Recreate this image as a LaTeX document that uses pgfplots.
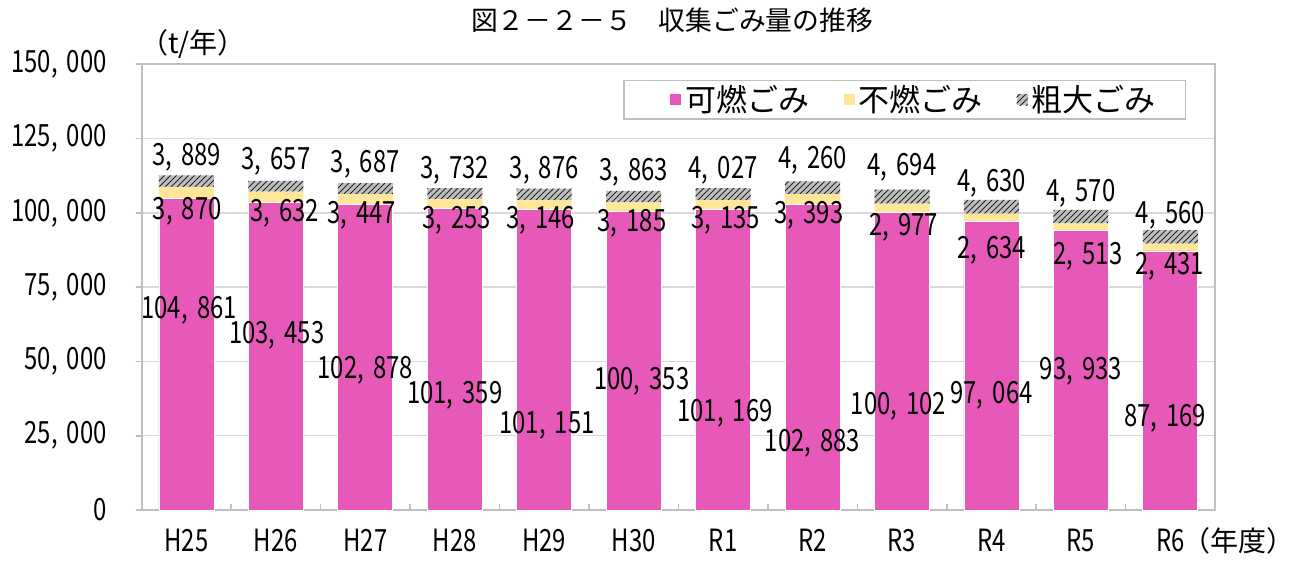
\documentclass[border=0pt]{standalone}
\usepackage{fontspec}
\setmainfont{Noto Sans CJK JP}
\newfontfamily\numfont[FakeStretch=0.78]{Noto Sans CJK JP}
\usepackage{pgfplots}
\pgfplotsset{compat=1.18}
\usetikzlibrary{patterns}
\definecolor{kanen}{HTML}{E659B8}
\definecolor{funen}{HTML}{FFE699}
\definecolor{sodai}{HTML}{BFBFBF}
\definecolor{framec}{HTML}{BFBFBF}
\definecolor{gridc}{HTML}{D9D9D9}
\newcommand{\lab}{\numfont\fontsize{15.3}{17}\selectfont}
\newcommand{\cc}{,\kern0.3em}
\pgfplotsset{sqleg/.style={legend image code/.code={\path (0pt,0pt) (15.5pt,0pt);\path[##1,draw=none] (10pt,-2.75pt) rectangle (15.5pt,2.75pt);}}}
\begin{document}
\begin{tikzpicture}
\begin{axis}[
  at={(0,0)}, anchor=south west,
  scale only axis, width=536.7pt, height=222.9pt,
  ybar stacked, bar width=27.5pt,
  xmin=-0.5, xmax=11.5, ymin=0, ymax=150000,
  xtick={-0.5,0.5,...,11.5},
  x tick label as interval,
  xticklabels={H25,H26,H27,H28,H29,H30,R1,R2,R3,R4,R5,{R6\rlap{\kern-1.2pt\rmfamily\fontsize{14}{16}\selectfont（年度）}}},
  x tick label style={text height=10.5pt, text depth=0pt, yshift=-6.5pt},
  ytick={0,25000,50000,75000,100000,125000,150000},
  yticklabels={0,{25\cc000},{50\cc000},{75\cc000},{100\cc000},{125\cc000},{150\cc000}},
  scaled y ticks=false,
  y tick label style={xshift=-11pt},
  tick label style={font=\lab},
  tick pos=left,
  xtick align=inside, ytick align=outside,
  major tick length=3pt,
  tick style={draw=framec, line width=0.8pt},
  ymajorgrids, xmajorgrids=false,
  grid style={draw=gridc, line width=0.7pt},
  axis line style={draw=framec, line width=1.1pt},
  legend columns=3,
  legend style={at={(0.973,0.965)}, anchor=north east, draw=framec, line width=0.8pt,
    font=\fontsize{15.5}{17}\selectfont, inner xsep=12.9pt, inner ysep=0.5pt,
    nodes={inner ysep=1.8pt},
    /tikz/every even column/.append style={column sep=5pt}},
  legend cell align=left,
]
\addplot+[sqleg, fill=kanen, draw=white, line width=0.4pt] coordinates {
 (0,104861) (1,103453) (2,102878) (3,101359) (4,101151) (5,100353)
 (6,101169) (7,102883) (8,100102) (9,97064) (10,93933) (11,87169)};
\addplot+[sqleg, fill=funen, draw=none] coordinates {
 (0,3870) (1,3632) (2,3447) (3,3253) (4,3146) (5,3185)
 (6,3135) (7,3393) (8,2977) (9,2634) (10,2513) (11,2431)};
\addplot+[sqleg, fill=sodai, draw=none, postaction={pattern=north east lines, pattern color=black!85}] coordinates {
 (0,3889) (1,3657) (2,3687) (3,3732) (4,3876) (5,3863)
 (6,4027) (7,4260) (8,4694) (9,4630) (10,4570) (11,4560)};
\legend{可燃ごみ,不燃ごみ,粗大ごみ}
% top labels
\coordinate (t0) at (axis cs:0,118700);
\coordinate (t1) at (axis cs:1,117200);
\coordinate (t2) at (axis cs:2,116400);
\coordinate (t3) at (axis cs:3,114400);
\coordinate (t4) at (axis cs:4,114400);
\coordinate (t5) at (axis cs:5,113700);
\coordinate (t6) at (axis cs:6,114400);
\coordinate (t7) at (axis cs:7,117500);
\coordinate (t8) at (axis cs:8,115200);
\coordinate (t9) at (axis cs:9,110000);
\coordinate (t10) at (axis cs:10,106600);
\coordinate (t11) at (axis cs:11,99300);
% middle labels
\coordinate (m0) at (axis cs:0.01,100500);
\coordinate (m1) at (axis cs:1.10,99900);
\coordinate (m2) at (axis cs:1.96,99300);
\coordinate (m3) at (axis cs:3.02,97600);
\coordinate (m4) at (axis cs:3.96,97600);
\coordinate (m5) at (axis cs:4.98,96500);
\coordinate (m6) at (axis cs:6.03,97600);
\coordinate (m7) at (axis cs:6.96,99300);
\coordinate (m8) at (axis cs:8.02,95000);
\coordinate (m9) at (axis cs:9.0,87500);
\coordinate (m10) at (axis cs:10.08,85300);
\coordinate (m11) at (axis cs:10.99,81900);
% bottom labels
\coordinate (b0) at (axis cs:0.03,67300);
\coordinate (b1) at (axis cs:1.01,58900);
\coordinate (b2) at (axis cs:2.0,47100);
\coordinate (b3) at (axis cs:3.0,38700);
\coordinate (b4) at (axis cs:4.03,28600);
\coordinate (b5) at (axis cs:5.09,43200);
\coordinate (b6) at (axis cs:6.02,32500);
\coordinate (b7) at (axis cs:7.0,22500);
\coordinate (b8) at (axis cs:7.96,34800);
\coordinate (b9) at (axis cs:9.0,38700);
\coordinate (b10) at (axis cs:10.0,46600);
\coordinate (b11) at (axis cs:10.94,31000);
\end{axis}
\node at (t0) {\lab 3\cc889};
\node at (t1) {\lab 3\cc657};
\node at (t2) {\lab 3\cc687};
\node at (t3) {\lab 3\cc732};
\node at (t4) {\lab 3\cc876};
\node at (t5) {\lab 3\cc863};
\node at (t6) {\lab 4\cc027};
\node at (t7) {\lab 4\cc260};
\node at (t8) {\lab 4\cc694};
\node at (t9) {\lab 4\cc630};
\node at (t10) {\lab 4\cc570};
\node at (t11) {\lab 4\cc560};
\node at (m0) {\lab 3\cc870};
\node at (m1) {\lab 3\cc632};
\node at (m2) {\lab 3\cc447};
\node at (m3) {\lab 3\cc253};
\node at (m4) {\lab 3\cc146};
\node at (m5) {\lab 3\cc185};
\node at (m6) {\lab 3\cc135};
\node at (m7) {\lab 3\cc393};
\node at (m8) {\lab 2\cc977};
\node at (m9) {\lab 2\cc634};
\node at (m10) {\lab 2\cc513};
\node at (m11) {\lab 2\cc431};
\node at (b0) {\lab 104\cc861};
\node at (b1) {\lab 103\cc453};
\node at (b2) {\lab 102\cc878};
\node at (b3) {\lab 101\cc359};
\node at (b4) {\lab 101\cc151};
\node at (b5) {\lab 100\cc353};
\node at (b6) {\lab 101\cc169};
\node at (b7) {\lab 102\cc883};
\node at (b8) {\lab 100\cc102};
\node at (b9) {\lab 97\cc064};
\node at (b10) {\lab 93\cc933};
\node at (b11) {\lab 87\cc169};
\node[anchor=west, inner sep=0pt, font=\fontsize{14}{16}\selectfont] at (-1pt,233.2pt) {（t/年）};
\node[font=\fontsize{13.4}{16}\selectfont] at (265.2pt,245pt) {図２－２－５　収集ごみ量の推移};
\pgfresetboundingbox
\path[use as bounding box] (-70.85pt,-26pt) rectangle (575.65pt,255pt);
\end{tikzpicture}
\end{document}
